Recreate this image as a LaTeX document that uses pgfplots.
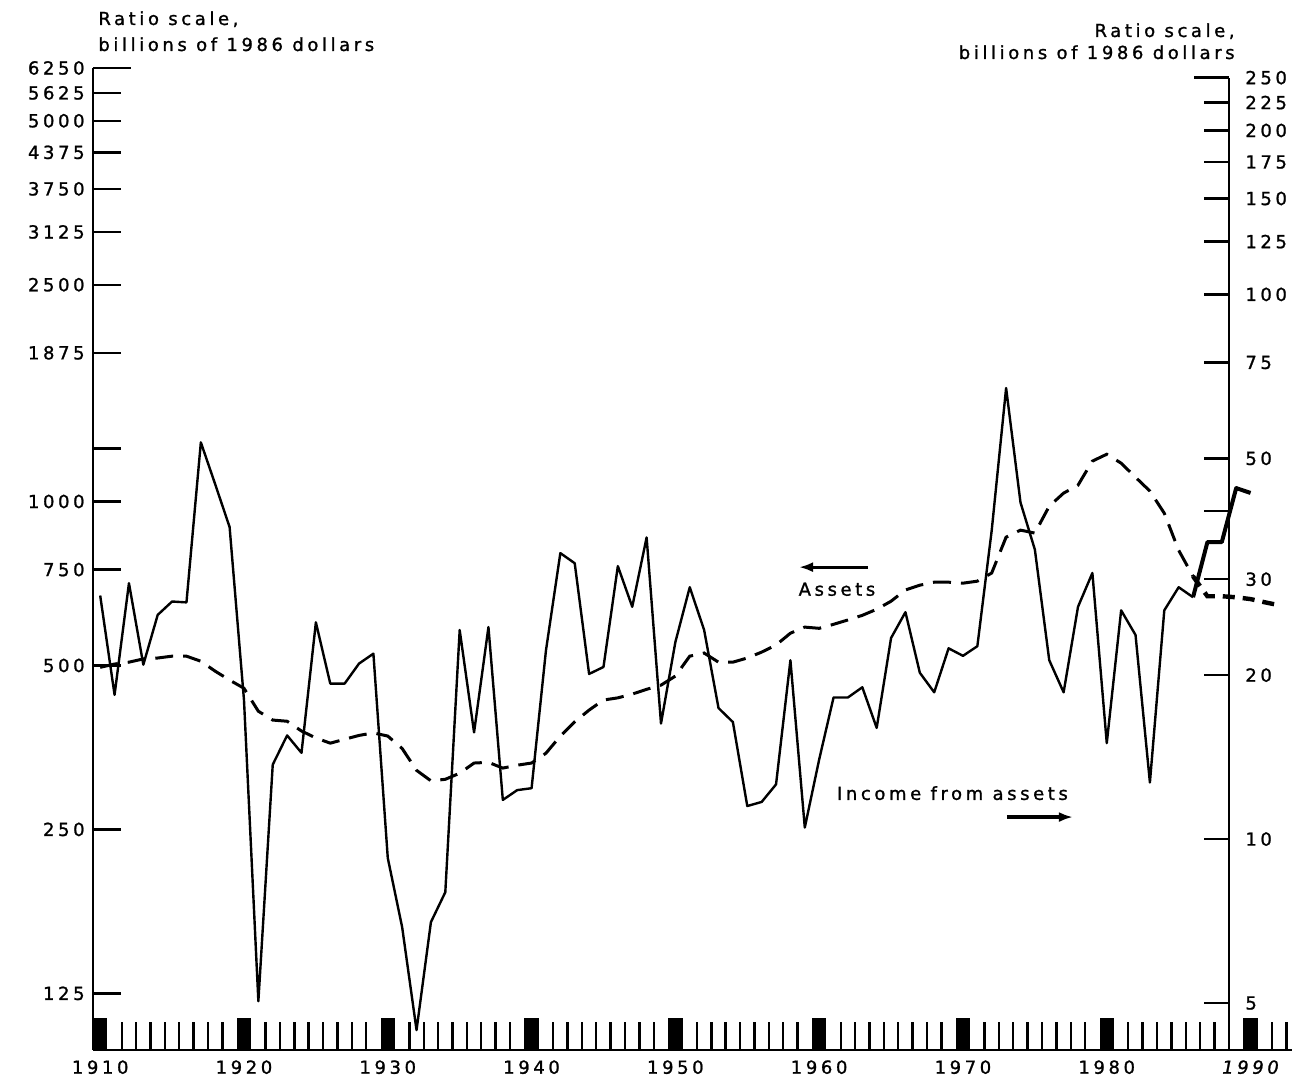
\documentclass[border=0pt]{standalone}
\usepackage{fontspec}
\setmainfont{DejaVu Sans}[LetterSpace=20, FakeBold=1.2]
\usepackage{pgfplots}
\pgfplotsset{compat=1.18}
\usetikzlibrary{arrows.meta}

\pgfplotstableread{
year income
1910 28.0
1911 18.4
1912 29.5
1913 20.9
1914 25.8
1915 27.3
1916 27.2
1917 53.5
1918 44.8
1919 37.4
1920 18.0
1921 5.04
1922 13.7
1923 15.5
1924 14.4
1925 25.0
1926 19.3
1927 19.3
1928 21.0
1929 21.9
1930 9.23
1931 6.89
1932 4.46
1933 7.04
1934 7.99
1935 24.2
1936 15.7
1937 24.5
1938 11.8
1939 12.3
1940 12.4
1941 22.2
1942 33.5
1943 32.1
1944 20.1
1945 20.7
1946 31.7
1947 26.7
1948 35.8
1949 16.3
1950 23.0
1951 29.0
1952 24.2
1953 17.4
1954 16.4
1955 11.5
1956 11.7
1957 12.6
1958 21.3
1959 10.5
1960 14.0
1961 18.2
1962 18.2
1963 19.0
1964 16.0
1965 23.4
1966 26.1
1967 20.2
1968 18.6
1969 22.4
1970 21.7
1971 22.6
1972 36.9
1973 67.3
1974 41.5
1975 34.0
1976 21.3
1977 18.6
1978 26.7
1979 30.8
1980 15.0
1981 26.3
1982 23.7
1983 12.7
1984 26.3
1985 29.0
1986 27.8
}\incomeA

\pgfplotstableread{
year income
1986 27.8
1987 35.1
1988 35.1
1989 44.1
1990 43.2
}\incomeB

\pgfplotstableread{
year assets
1910 496
1911 503
1912 507
1913 514
1914 516
1915 520
1916 520
1917 509
1918 488
1919 470
1920 454
1921 412
1922 397
1923 395
1924 379
1925 368
1926 360
1927 366
1928 372
1929 376
1930 371
1931 352
1932 321
1933 307
1934 309
1935 317
1936 331
1937 332
1938 324
1939 328
1940 331
1941 345
1942 371
1943 394
1944 414
1945 432
1946 436
1947 443
1948 452
1949 460
1950 478
1951 520
1952 527
1953 507
1954 507
1955 516
1956 529
1957 545
1958 573
1959 588
1960 585
1961 595
1962 606
1963 618
1964 634
1965 656
1966 688
1967 702
1968 711
1969 711
1970 708
1971 714
1972 739
1973 860
1974 886
1975 875
1976 980
1977 1036
1978 1071
1979 1186
1980 1221
1981 1176
1982 1108
1983 1045
1984 952
1985 814
1986 729
}\assetsA

\pgfplotstableread{
year assets
1986 729
1987 670
1988 670
1989 667
1990 662
1991 653
1992 645
}\assetsB

\begin{document}
\fontsize{9}{11}\selectfont
\begin{tikzpicture}
\useasboundingbox (-46.5pt,-19pt) rectangle (604.5pt,525pt);
% ---------- left axis (assets) ----------
\begin{axis}[
  at={(0,0)}, anchor=south west, scale only axis,
  width=599.6pt, height=491pt,
  xmin=1909.5, xmax=1992.9,
  ymode=log, ymin=98.4, ymax=6250,
  axis x line=bottom, axis y line=left,
  axis line style={-, line width=1pt, black},
  tick style={black, line width=1.2pt},
  xminorticks=false, yminorticks=false,
  tick align=inside,
  major tick length=14pt,
  ytick={125,250,500,750,1000,1250,1875,2500,3125,3750,4375,5000,5625},
  yticklabels={125,250,500,750,1000,,1875,2500,3125,3750,4375,5000,5625},
  extra y ticks={6250}, extra y tick labels={6250},
  extra y tick style={major tick length=19pt},
  yticklabel style={anchor=east, xshift=-1pt},
  xtick={1911.5,1912.5,1913.5,1914.5,1915.5,1916.5,1917.5,1918.5,
         1921.5,1922.5,1923.5,1924.5,1925.5,1926.5,1927.5,1928.5,
         1931.5,1932.5,1933.5,1934.5,1935.5,1936.5,1937.5,1938.5,
         1941.5,1942.5,1943.5,1944.5,1945.5,1946.5,1947.5,1948.5,
         1951.5,1952.5,1953.5,1954.5,1955.5,1956.5,1957.5,1958.5,
         1961.5,1962.5,1963.5,1964.5,1965.5,1966.5,1967.5,1968.5,
         1971.5,1972.5,1973.5,1974.5,1975.5,1976.5,1977.5,1978.5,
         1981.5,1982.5,1983.5,1984.5,1985.5,1986.5,1987.5,1988.5,
         1991.5,1992.5},
  xticklabel={\empty},
  extra x ticks={1910,1920,1930,1940,1950,1960,1970,1980,1990},
  extra x tick labels={1910,1920,1930,1940,1950,1960,1970,1980,{\itshape 1990}},
  extra x tick style={major tick length=16pt, major tick style={line width=7.19pt},
     xticklabel style={yshift=-2pt}},
]
\addplot[black, line width=1.5pt, dash pattern=on 9pt off 5pt] table[x=year, y=assets] {\assetsA};
\addplot[black, line width=2.2pt, dash pattern=on 6pt off 4pt] table[x=year, y=assets] {\assetsB};

\node at (axis cs:1961.24,690) {Assets};
\draw[line width=1.6pt, -{Latex[length=7pt,width=5pt]}] (axis cs:1963.4,757.7) -- (axis cs:1958.6,757.7);
\node at (axis cs:1969.27,291.4) {Income from assets};
\draw[line width=1.6pt, -{Latex[length=7pt,width=5pt]}] (axis cs:1973.06,263.4) -- (axis cs:1977.65,263.4);
\end{axis}

% ---------- right axis (income) ----------
\begin{axis}[
  at={(0,0)}, anchor=south west, scale only axis,
  width=568pt, height=486.16pt,
  xmin=1909.5, xmax=1988.5,
  ymode=log, ymin=4.1, ymax=250,
  axis x line=none, axis y line=right,
  axis line style={-, line width=1pt, black},
  tick style={black, line width=1.2pt},
  xminorticks=false, yminorticks=false,
  tick align=inside,
  major tick length=12.5pt,
  ytick={5,10,20,30,40,50,75,100,125,150,175,200,225},
  yticklabels={5,10,20,30,,50,75,100,125,150,175,200,225},
  extra y ticks={250}, extra y tick labels={250},
  extra y tick style={major tick length=17.5pt},
  yticklabel style={anchor=west, xshift=5pt},
  clip=false,
]
\addplot[black, line width=1.2pt, line join=round] table[x=year, y=income] {\incomeA};
\addplot[black, line width=2pt, line join=round] table[x=year, y=income] {\incomeB};
\end{axis}

% ---------- titles ----------
\node[anchor=base west, inner sep=0pt] at (2.5pt,512.5pt) {Ratio scale,};
\node[anchor=base west, inner sep=0pt] at (2.5pt,499.5pt) {billions of 1986 dollars};
\node[anchor=base east, inner sep=0pt] at (571pt,506.5pt) {Ratio scale,};
\node[anchor=base east, inner sep=0pt] at (571pt,495.5pt) {billions of 1986 dollars};
\end{tikzpicture}
\end{document}
